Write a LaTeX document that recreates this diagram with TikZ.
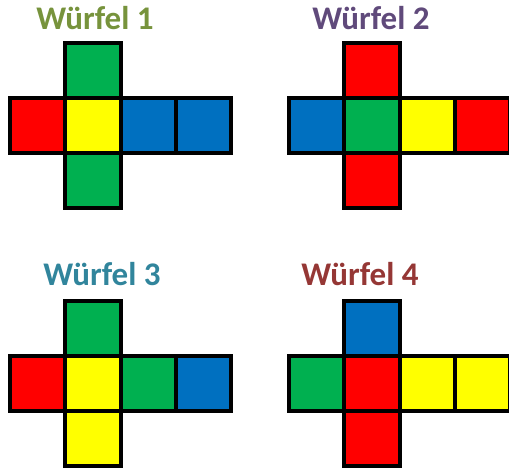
\documentclass[tikz,border=0pt]{standalone}
\usepackage{fontspec}
\setmainfont{Carlito}
\usetikzlibrary{positioning}
\definecolor{wred}{HTML}{FF0000}
\definecolor{wyellow}{HTML}{FFFF00}
\definecolor{wgreen}{HTML}{00B050}
\definecolor{wblue}{HTML}{0070C0}
\definecolor{olive}{HTML}{77933C}
\definecolor{lila}{HTML}{604A7B}
\definecolor{petrol}{HTML}{31859C}
\definecolor{braun}{HTML}{953735}
\tikzset{
    face/.style={draw, line width=4pt, minimum size=55.3pt, inner sep=0pt, outer sep=0pt},
    titel/.style={anchor=base, font=\fontsize{33}{40}\selectfont\bfseries}
}
% #1 name, #2 #3 centre, #4 top, #5 left, #6 middle, #7 right, #8 far right, #9 bottom
\newcommand{\netz}[9]{
    \node[face, fill=#6] (#1m) at (#2,#3) {};
    \node[face, fill=#4, above=0pt of #1m] (#1t) {};
    \node[face, fill=#9, below=0pt of #1m] (#1b) {};
    \node[face, fill=#5, left=0pt of #1m] (#1l) {};
    \node[face, fill=#7, right=0pt of #1m] (#1r) {};
    \node[face, fill=#8, right=0pt of #1r] (#1rr) {};
}
\begin{document}
\begin{tikzpicture}[x=1pt, y=-1pt]
    \useasboundingbox (0,0) rectangle (509,468);
    \netz{a}{93}{125.5}{wgreen}{wred}{wyellow}{wblue}{wblue}{wgreen}
    \netz{b}{372}{125.5}{wred}{wblue}{wgreen}{wyellow}{wred}{wred}
    \netz{c}{93}{383.5}{wgreen}{wred}{wyellow}{wgreen}{wblue}{wyellow}
    \netz{d}{372}{383.5}{wblue}{wgreen}{wred}{wyellow}{wyellow}{wred}
    \node[titel, text=olive] (ta) at (95,30) {Würfel 1};
    \node[titel, text=lila] (tb) at (371,30) {Würfel 2};
    \node[titel, text=petrol] (tc) at (102,285) {Würfel 3};
    \node[titel, text=braun] (td) at (360,285) {Würfel 4};
\end{tikzpicture}
\end{document}
